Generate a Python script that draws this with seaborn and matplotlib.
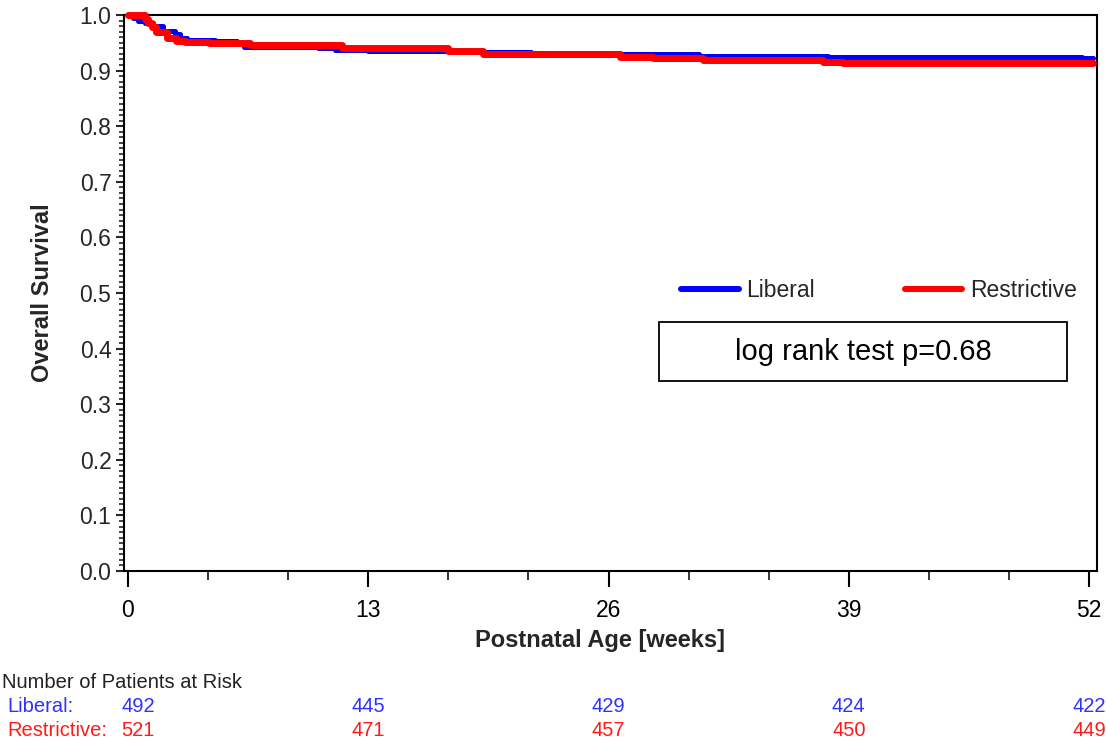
import numpy as np
import pandas as pd
import matplotlib
matplotlib.use("Agg")
import matplotlib.pyplot as plt
import matplotlib.transforms as mtransforms
from matplotlib.patches import Rectangle
from matplotlib.ticker import MultipleLocator
import seaborn as sns

# ---- data ----
liberal_weeks = [0, 0.27, 0.55, 0.9, 1.35, 1.9, 2.55, 2.8, 3.2, 4.7, 5.9, 6.3, 10.3,
                 11.2, 13.0, 19.0, 21.8, 26.6, 30.9, 34.5, 37.9, 51.6, 52.2]
liberal_surv = [1.0, 0.995, 0.990, 0.986, 0.980, 0.971, 0.965, 0.959, 0.955, 0.953,
                0.950, 0.943, 0.940, 0.937, 0.935, 0.933, 0.931, 0.929, 0.927, 0.926,
                0.925, 0.922, 0.922]
restrictive_weeks = [0, 0.9, 1.1, 1.3, 1.5, 2.1, 2.6, 3.1, 4.4, 6.6, 11.6, 17.3, 19.2,
                     26.6, 28.4, 31.1, 37.6, 38.7, 52.2]
restrictive_surv = [1.0, 0.993, 0.985, 0.978, 0.969, 0.959, 0.953, 0.951, 0.949, 0.946,
                    0.941, 0.936, 0.929, 0.925, 0.922, 0.919, 0.916, 0.913, 0.913]
group_names = ["Liberal", "Restrictive"]
risk_times = [0, 13, 26, 39, 52]
liberal_at_risk = [492, 445, 429, 424, 422]
restrictive_at_risk = [521, 471, 457, 450, 449]
x_ticks = [0, 13, 26, 39, 52]
p_text = "log rank test p=0.68"

sns.set_style("white")
plt.rcParams['font.family'] = ['Liberation Sans', 'DejaVu Sans']

fig = plt.figure(figsize=(11.06, 7.42), dpi=100)
ax = fig.add_axes([124/1106, 1 - 571/742, 973/1106, 556/742])

df_lib = pd.DataFrame({"week": liberal_weeks, "surv": liberal_surv, "arm": group_names[0]})
df_res = pd.DataFrame({"week": restrictive_weeks, "surv": restrictive_surv, "arm": group_names[1]})

sns.lineplot(data=df_lib, x="week", y="surv", color=(0, 0, 1), linewidth=3.6,
             drawstyle="steps-post", estimator=None, sort=False, ax=ax,
             label=group_names[0], clip_on=False, zorder=3)
sns.lineplot(data=df_res, x="week", y="surv", color=(1, 0, 0), linewidth=5.0,
             drawstyle="steps-post", estimator=None, sort=False, ax=ax,
             label=group_names[1], clip_on=False, zorder=4)

ax.set_xlim(-0.216, 52.43)
ax.set_ylim(0, 1.0)
ax.set_xticks(x_ticks)
ax.set_xticklabels([str(t) for t in x_ticks])
ax.xaxis.set_minor_locator(MultipleLocator(13/3))
ax.set_yticks(np.round(np.arange(0, 1.01, 0.1), 1))
ax.set_yticklabels([f"{v:.1f}" for v in np.arange(0, 1.01, 0.1)])
ax.yaxis.set_minor_locator(MultipleLocator(0.01))

ax.tick_params(axis="x", which="major", direction="out", length=11.5, width=1.5,
               labelsize=16.5, pad=9, bottom=True, colors="black")
ax.tick_params(axis="x", which="minor", direction="out", length=6.5, width=1.3, bottom=True)
ax.tick_params(axis="y", which="major", direction="out", length=6, width=1.5,
               labelsize=16.5, pad=3, left=True)
ax.tick_params(axis="y", which="minor", direction="out", length=3.5, width=1.2, left=True)

for s in ax.spines.values():
    s.set_visible(True)
    s.set_color("black")
    s.set_linewidth(1.5)

ax.set_xlabel("Postnatal Age [weeks]", fontsize=17, fontweight="bold", va="center")
ax.xaxis.set_label_coords((600 - 124) / 973, (571 - 640) / 556)
ax.set_ylabel("Overall Survival", fontsize=17, fontweight="bold", va="center")
ax.yaxis.set_label_coords((43 - 124) / 973, 0.5)

leg = ax.legend(loc="center", bbox_to_anchor=(0.776, 0.504), ncol=2, frameon=False,
                fontsize=16.5, handlelength=2.5, handletextpad=0.35, columnspacing=3.9)
for h in leg.get_lines():
    h.set_linewidth(4.3)

ax.add_patch(Rectangle(((659 - 124) / 973, (571 - 381) / 556), 408 / 973, 59 / 556,
                       transform=ax.transAxes, fill=False, edgecolor="black",
                       linewidth=1.3, zorder=5))
ax.text((863 - 124) / 973, (571 - 352) / 556, p_text, transform=ax.transAxes,
        ha="center", va="center", fontsize=21, color="black", zorder=6)

# ---- number at risk table ----
fig.text(2 / 1106, 1 - 682 / 742, "Number of Patients at Risk", fontsize=14.5,
         ha="left", va="center", color="#222222")
fig.text(7 / 1106, 1 - 707 / 742, "Liberal:", fontsize=14.5, ha="left", va="center",
         color="#3030ff")
fig.text(7 / 1106, 1 - 731 / 742, "Restrictive:", fontsize=14.5, ha="left", va="center",
         color="#ff1a1a")
trans = mtransforms.blended_transform_factory(ax.transData, fig.transFigure)
for i, t in enumerate(risk_times):
    ha = "left" if i == 0 else "center"
    xx = -0.35 if i == 0 else t
    ax.text(xx, 1 - 707 / 742, str(liberal_at_risk[i]), transform=trans, ha=ha,
            va="center", fontsize=14.5, color="#3030ff", clip_on=False)
    ax.text(xx, 1 - 731 / 742, str(restrictive_at_risk[i]), transform=trans, ha=ha,
            va="center", fontsize=14.5, color="#ff1a1a", clip_on=False)

fig.savefig("out.png", dpi=100, facecolor="white")
